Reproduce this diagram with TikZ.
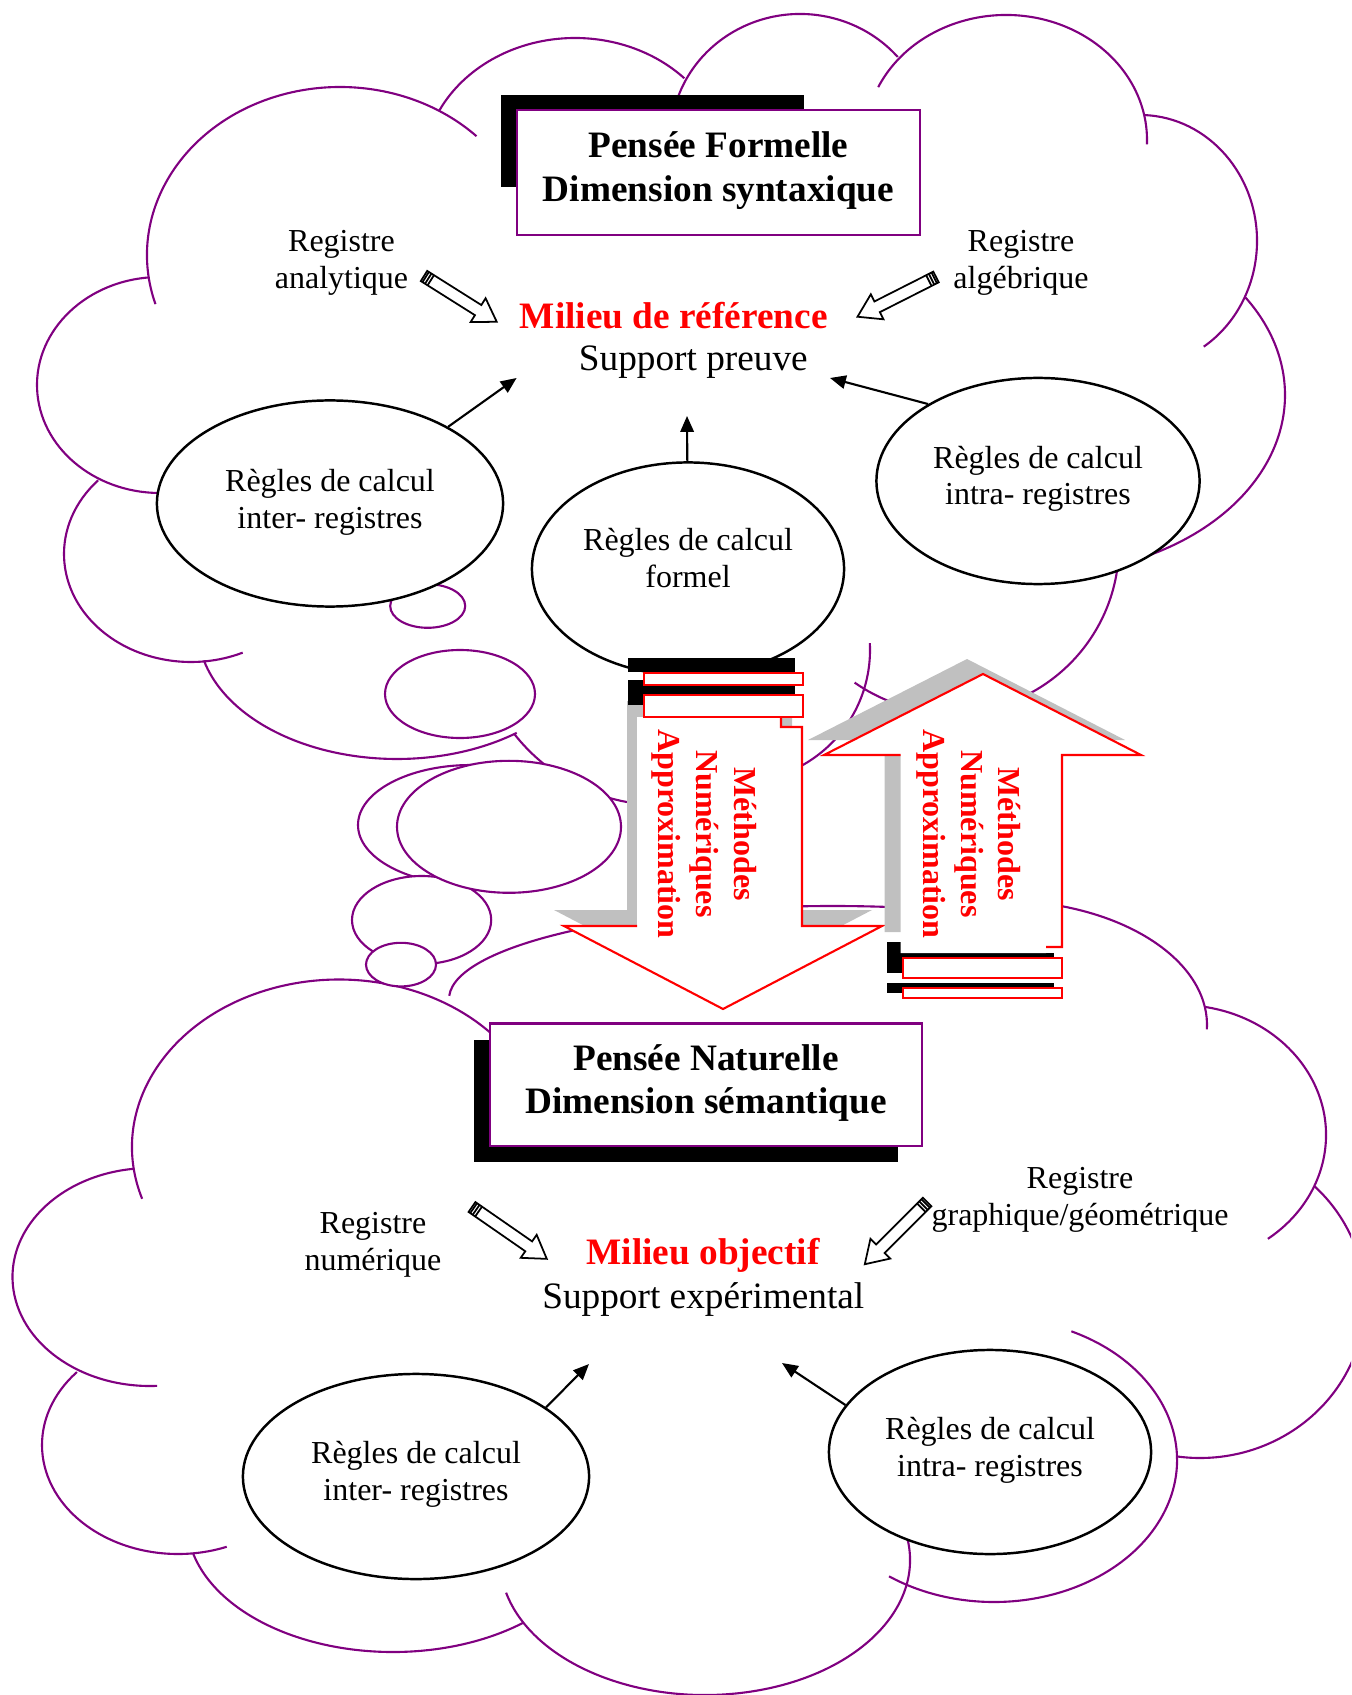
\documentclass[tikz,border=0pt]{standalone}
\usepackage{fontspec}
\setmainfont{Liberation Serif}
\usetikzlibrary{shapes.geometric,arrows.meta}

\definecolor{cloudpurple}{RGB}{128,0,128}
\definecolor{shadegray}{RGB}{192,192,192}
\newcommand{\smalltxt}{\fontsize{9.1}{10.5}\selectfont}
\newcommand{\bigtxt}{\fontsize{10.6}{12.3}\selectfont}

\tikzset{
  cloudline/.style={draw=cloudpurple, line width=0.6pt},
  bubble/.style={cloudline, fill=white},
  thinkbox/.style={draw=cloudpurple, fill=white, line width=0.6pt, align=center, font=\bigtxt\bfseries, inner sep=0pt, text depth=3.4pt},
  rulebox/.style={ellipse, draw, fill=white, line width=0.7pt, align=center, font=\smalltxt, inner sep=0pt, text depth=3.2pt},
  regtext/.style={align=center, font=\smalltxt, inner sep=0pt},
  conn/.style={-{Triangle[length=4.5pt,width=3.8pt]}, line width=0.6pt},
  arrowred/.style={draw=red, line width=0.6pt},
  methtext/.style={align=center, text=red, font=\fontsize{9.1}{10.8}\selectfont\bfseries, rotate=-90, inner sep=0pt},
  pics/pencil/.style={code={
    \draw[fill=white, line width=0.5pt] (0,-6) -- ({#1-22},-6) -- ({#1-22},-14) -- (#1,0) -- ({#1-22},14) -- ({#1-22},6) -- (0,6) -- cycle;
    \foreach \s in {2,5,8} \draw[line width=0.5pt] (\s,-6) -- (\s,6);
  }}
}

\begin{document}
\begin{tikzpicture}[x=0.01cm, y=-0.01cm]
\useasboundingbox (0,0) rectangle (1351,1695);
\clip (0,0) rectangle (1351,1695);

% Top cloud
\foreach \cx/\cy/\rx/\ry/\a/\b in {340/255/193/168/163/315, 575/170/152/132/207/316,
    800/139/129.5/125/198/319, 1006/140/141/125/205/362, 1140/241/117/126/272/417,
    1040/395/245/179/-33/72, 951/545/168/168/5/125, 738/650/132/132/-3/100,
    160/385/123/108/265/88, 191/554/127/108/223/66, 397/629/199/130/166/53,
    660/620/185/185/142/95}
  \draw[cloudline] ({\cx+\rx*cos(\a)},{\cy+\ry*sin(\a)}) arc[start angle=\a, end angle=\b, x radius=\rx, y radius=\ry];

% Bottom cloud
\foreach \cx/\cy/\rx/\ry/\a/\b in {339/1147/207/167.5/162/320, 833/999/384/93/182/300,
    1000/1025/207/124.5/260/362, 1180/1135/146/130/280/413, 1200/1300/165/158/314/458,
    994/1460/183/142/-65/125, 705/1560/205/135/-12/166, 393/1522/206/130/51/166,
    178/1445/136/109/222/69, 150/1277/137.5/109/263/87}
  \draw[cloudline] ({\cx+\rx*cos(\a)},{\cy+\ry*sin(\a)}) arc[start angle=\a, end angle=\b, x radius=\rx, y radius=\ry];

% Bubbles
\foreach \cx/\cy/\rx/\ry in {427.7/606/37.5/21.8, 460/694/75/44, 471/825/113/60,
    421.6/920/69.6/44, 401/964.6/35/21.8, 509/826.8/112/66}
  \draw[bubble] (\cx,\cy) ellipse[x radius=\rx, y radius=\ry];

% Title boxes
\fill (501,95) rectangle (804,187);
\node[thinkbox, minimum width=4.03cm, minimum height=1.25cm] (penseeF) at (718.5,172.5) {Pensée Formelle\\Dimension syntaxique};
\fill (474,1040) rectangle (898,1162);
\node[thinkbox, minimum width=4.32cm, minimum height=1.225cm] (penseeN) at (706,1084.8) {Pensée Naturelle\\Dimension sémantique};

% Rules
\node[rulebox, minimum width=3.46cm, minimum height=2.06cm, text depth=2.5pt] (interF) at (330,503.5) {Règles de calcul\\inter- registres};
\node[rulebox, minimum width=3.12cm, minimum height=2.13cm, text depth=6.1pt] (formel) at (688,569) {Règles de calcul\\formel};
\node[rulebox, minimum width=3.23cm, minimum height=2.06cm] (intraF) at (1038,481) {Règles de calcul\\intra- registres};
\node[rulebox, minimum width=3.46cm, minimum height=2.05cm] (interN) at (416,1476.5) {Règles de calcul\\inter- registres};
\node[rulebox, minimum width=3.22cm, minimum height=2.04cm, text depth=3pt] (intraN) at (990,1452) {Règles de calcul\\intra- registres};

% Milieux
\node[anchor=base, text=red, font=\bigtxt\bfseries, inner sep=0pt] (milieuRef) at (673.7,328.5) {Milieu de référence};
\node[anchor=base, font=\bigtxt, inner sep=0pt] (supPreuve) at (693.3,371) {Support preuve};
\node[anchor=base, text=red, font=\bigtxt\bfseries, inner sep=0pt] (milieuObj) at (703,1264.5) {Milieu objectif};
\node[anchor=base, font=\bigtxt, inner sep=0pt] (supExp) at (703.3,1308) {Support expérimental};

% Registres
\node[regtext] (regAna) at (341.5,262.5) {Registre\\analytique};
\node[regtext] (regAlg) at (1021,263) {Registre\\algébrique};
\node[regtext] (regNum) at (373,1244.5) {Registre\\numérique};
\node[regtext] (regGeo) at (1080,1200) {Registre\\graphique/géométrique};

% Arrows
\coordinate (tipRefA) at (516.6,378);
\coordinate (tipRefB) at (687,416);
\coordinate (tipRefC) at (830,378);
\coordinate (tipObjA) at (589,1364);
\coordinate (tipObjB) at (782,1363);
\draw[conn] (interF.33) -- (tipRefA);
\draw[conn] (formel) -- (tipRefB);
\draw[conn] (intraF.145) -- (tipRefC);
\draw[conn] (interN.28) -- (tipObjA);
\draw[conn] (intraN.162) -- (tipObjB);

% Pencils
\coordinate (penA1) at (424,276); \coordinate (penA2) at (497,322);
\coordinate (penB1) at (936,277); \coordinate (penB2) at (857,317);
\coordinate (penC1) at (472,1207); \coordinate (penC2) at (547,1259);
\coordinate (penD1) at (927,1202); \coordinate (penD2) at (865,1264);
\path (penA1) -- (penA2) pic[pos=0, sloped, allow upside down] {pencil=86};
\path (penB1) -- (penB2) pic[pos=0, sloped, allow upside down] {pencil=88};
\path (penC1) -- (penC2) pic[pos=0, sloped, allow upside down] {pencil=91};
\path (penD1) -- (penD2) pic[pos=0, sloped, allow upside down] {pencil=88};

% Down arrow
\fill[shadegray] (627,701) -- (792,701) -- (792,910) -- (872,910) -- (713,993) -- (554,910) -- (627,910) -- cycle;
\fill (628,658) rectangle (795,672);
\fill (628,680) rectangle (795,705);
\fill[white] (637,717) -- (781,717) -- (781,727) -- (802,727) -- (802,926) -- (882,926) -- (723,1009) -- (564,926) -- (637,926) -- cycle;
\draw[arrowred] (781,717) -- (781,727) -- (802,727) -- (802,926) -- (882,926) -- (723,1009) -- (564,926) -- (637,926);
\draw[arrowred, fill=white] (644,673) rectangle (803,685);
\draw[arrowred, fill=white] (644,695) rectangle (803,717);
\node[methtext] (methDown) at (704.5,834) {Méthodes\\Numériques\\Approximation};

% Up arrow
\fill[shadegray] (967,659) -- (1125,740) -- (1046,740) -- (1046,932) -- (884.6,932) -- (884.6,740) -- (808,740) -- cycle;
\fill (887,942) rectangle (903,958);
\fill (887,953) rectangle (1054,973);
\fill (887,983) rectangle (1054,993);
\fill[white] (983,674) -- (1141,755) -- (1062,755) -- (1062,947) -- (1046,947) -- (1046,953) -- (900.6,953) -- (900.6,755) -- (824,755) -- cycle;
\draw[arrowred] (900.6,755) -- (824,755) -- (983,674) -- (1141,755) -- (1062,755) -- (1062,947) -- (1046,947);
\draw[arrowred, fill=white] (903,958) rectangle (1062,978);
\draw[arrowred, fill=white] (903,988) rectangle (1062,998);
\node[methtext] (methUp) at (968.7,834) {Méthodes\\Numériques\\Approximation};

\end{tikzpicture}
\end{document}
